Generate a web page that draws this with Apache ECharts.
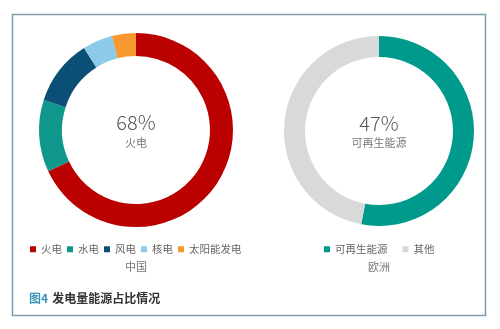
<!DOCTYPE html>
<html>
<head>
<meta charset="utf-8">
<script src="https://cdn.jsdelivr.net/npm/echarts@6/dist/echarts.min.js"></script>
<style>
html,body{margin:0;padding:0;background:#fff;}
#c{width:500px;height:329px;}
</style>
</head>
<body>
<div id="c"></div>
<script>
// China generation mix
var chinaNames = ['火电', '水电', '风电', '核电', '太阳能发电'];
var chinaValues = [68, 12, 11, 5, 4];
var chinaColors = ['#bb0000', '#10978b', '#0b4f77', '#8ccaea', '#f7992f'];
// Europe generation mix
var euroNames = ['可再生能源', '其他'];
var euroValues = [53, 47];
var euroColors = ['#009a8d', '#d9d9d9'];
// Text
var chinaCenterValue = '68%';
var chinaCenterLabel = '火电';
var euroCenterValue = '47%';
var euroCenterLabel = '可再生能源';
var chinaTitle = '中国';
var euroTitle = '欧洲';
var figNo = '图4';
var figTitle = '发电量能源占比情况';

var FONT = '"Noto Sans CJK SC", "Noto Sans", sans-serif';

function mkData(names, values, colors) {
  return names.map(function (n, i) {
    return { name: n, value: values[i], itemStyle: { color: colors[i] } };
  });
}
function ctext(x, y, t, size, color, weight) {
  return { type: 'text', x: x, y: y, silent: true,
    style: { text: t, fontSize: size, fill: color, fontWeight: weight || 'normal',
      fontFamily: FONT, align: 'center', verticalAlign: 'middle' } };
}

var chart = echarts.init(document.getElementById('c'), null, { renderer: 'canvas' });
chart.setOption({
  backgroundColor: '#ffffff',
  animation: false,
  textStyle: { fontFamily: FONT },
  title: [
    { text: '{a|' + figNo + '} {b|' + figTitle + '}', left: 24, top: 284,
      textStyle: { rich: {
        a: { fontSize: 12, fontWeight: 'bold', color: '#3d93b8', fontFamily: FONT },
        b: { fontSize: 12, fontWeight: 'bold', color: '#333', fontFamily: FONT }
      } } }
  ],
  legend: [
    { data: chinaNames, left: 25, top: 239, orient: 'horizontal',
      icon: 'rect', itemWidth: 6, itemHeight: 6, itemGap: 5, selectedMode: false,
      textStyle: { fontSize: 10.5, color: '#666', fontFamily: FONT } },
    { data: euroNames, left: 319, top: 239, orient: 'horizontal',
      icon: 'rect', itemWidth: 6, itemHeight: 6, itemGap: 15, selectedMode: false,
      textStyle: { fontSize: 10.5, color: '#666', fontFamily: FONT } }
  ],
  graphic: [
    { type: 'rect', shape: { x: 12.5, y: 14.5, width: 473, height: 301 },
      style: { fill: 'none', stroke: '#7b9cac', lineWidth: 1.5 }, silent: true },
    ctext(136, 122, chinaCenterValue, 20, '#555', 300),
    ctext(136, 143, chinaCenterLabel, 11, '#777'),
    ctext(379, 123, euroCenterValue, 20, '#555', 300),
    ctext(379, 143, euroCenterLabel, 11, '#777'),
    ctext(136, 267, chinaTitle, 11, '#777'),
    ctext(379, 267, euroTitle, 11, '#777')
  ],
  series: [
    { type: 'pie', center: [136, 130], radius: [74, 97], startAngle: 90, clockwise: true,
      label: { show: false }, labelLine: { show: false }, silent: true,
      data: mkData(chinaNames, chinaValues, chinaColors) },
    { type: 'pie', center: [379, 131], radius: [74, 95], startAngle: 90, clockwise: true,
      label: { show: false }, labelLine: { show: false }, silent: true,
      data: mkData(euroNames, euroValues, euroColors) }
  ]
});
</script>
</body>
</html>
